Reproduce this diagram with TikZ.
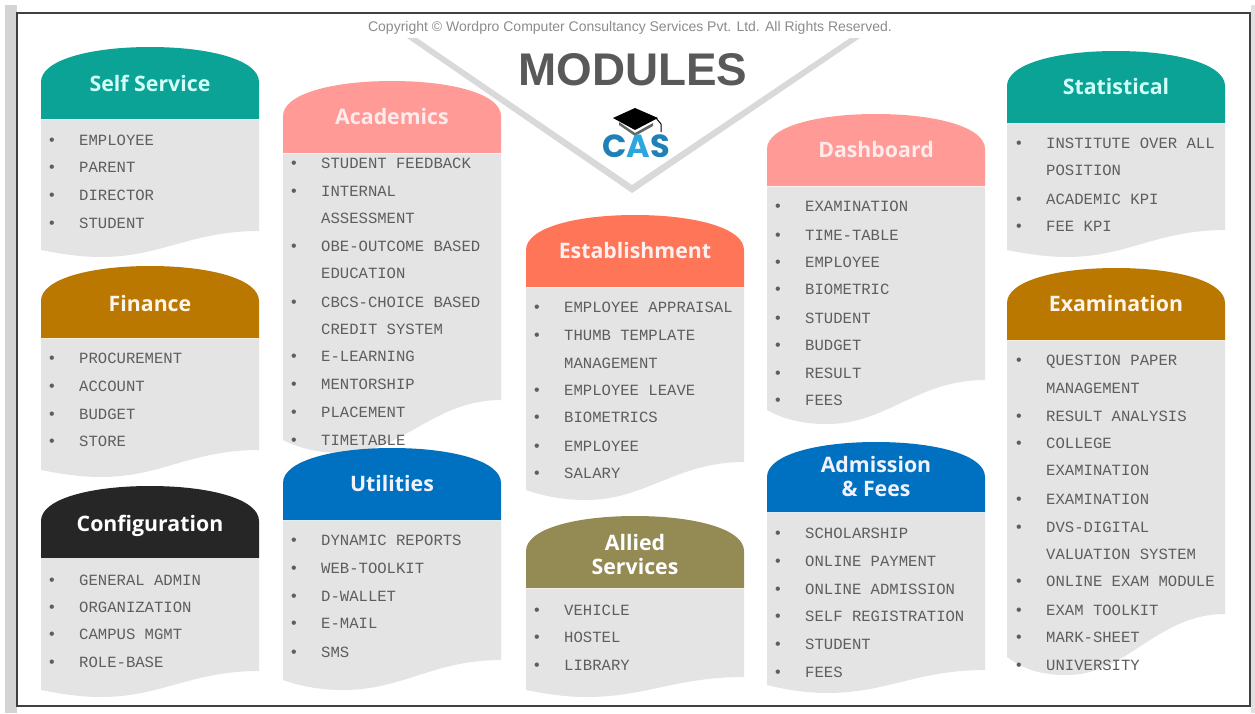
\documentclass[tikz,border=0pt]{standalone}
\usepackage{fontspec}
\setmainfont{Liberation Sans}
\newfontfamily\monoface{Liberation Mono}
\newfontfamily\titleface{Open Sans}
\newfontfamily\logoface{Poppins}
\definecolor{bodygrey}{HTML}{E4E4E4}
\definecolor{itemgrey}{HTML}{5E5E5E}
\definecolor{cteal}{HTML}{0AA396}
\definecolor{cgold}{HTML}{BA7800}
\definecolor{cblack}{HTML}{262626}
\definecolor{cpink}{HTML}{FF9A96}
\definecolor{cblue}{HTML}{0070C0}
\definecolor{csalmon}{HTML}{FF7558}
\definecolor{colive}{HTML}{948A54}
\tikzset{
  itemtext/.style={anchor=base west,inner sep=0pt,text=itemgrey,font=\monoface\fontsize{15.6}{15.6}\selectfont},
  bullettext/.style={anchor=base,inner sep=0pt,text=itemgrey,font=\fontsize{16}{16}\selectfont},
  titletext/.style={align=center,inner sep=0pt,font=\titleface\bfseries\fontsize{21.3}{24.5}\selectfont},
}
\def\headh{72}
\def\tdy{0}
% id, x, top, right end, left end, trough, fill, text colour, title
\newcommand{\modbox}[9]{%
  \fill[bodygrey] (#2,#3+\headh+1) -- (#2+218,#3+\headh+1) -- (#2+218,#4)
     .. controls (#2+150,#4) and (#2+120,#6) .. (#2+60,#6)
     .. controls (#2+40,#6) and (#2+20,#6-3) .. (#2,#5) -- cycle;
  \fill[#7] (#2,#3+\headh) -- (#2,#3+35)
     .. controls (#2,#3+13) and (#2+49,#3) .. (#2+109,#3)
     .. controls (#2+169,#3) and (#2+218,#3+13) .. (#2+218,#3+35)
     -- (#2+218,#3+\headh) -- cycle;
  \node[titletext,text=#8] (#1) at (#2+109,#3+36+\tdy) {#9};
}
% id, x, list y/bullet/text
\newcommand{\moditems}[3]{%
  \foreach \yy/\bu/\tx in {#3} {
    \node[bullettext] (#1-b\yy) at (#2+11,\yy+5) {\bu};
    \node[itemtext] (#1-t\yy) at (#2+38,\yy+5) {\tx};
  }
}
\begin{document}
\begin{tikzpicture}[x=1pt,y=-1pt]
\useasboundingbox (0,0) rectangle (1255,713);
\fill[white] (0,0) rectangle (1255,713);
\fill[black!17] (5,5) rectangle (17,713);
\fill[black!12] (1251,5) rectangle (1255,713);
\draw[line width=1.6pt,black!75] (17,13) rectangle (1250,706);
\node[inner sep=0pt,text=black!45,font=\fontsize{14}{14}\selectfont] (copyright) at (630,28) {Copyright © Wordpro Computer Consultancy Services Pvt. Ltd. All Rights Reserved.};
\fill[black!15] (407,38) -- (632,193) -- (860,38) -- (850,38) -- (632,185) -- (417,38) -- cycle;
\node[inner sep=0pt,text=black!65,font=\bfseries\fontsize{45.8}{45.8}\selectfont] (heading) at (633,70) {MODULES};
% logo
\fill[black!60] (619,122) -- (635,133) -- (653,123) -- (653,126) -- (635,136) -- (619,125) -- cycle;
\fill[black] (635,108) -- (658,118) -- (635,130) -- (613,118) -- cycle;
\draw[line width=1pt,black] (656,118) -- (661,124) -- (661,132);
\node[inner sep=0pt,font=\logoface\bfseries\fontsize{32}{32}\selectfont] (logotext) at (636,146) {\textcolor[HTML]{1F80B8}{C}\textcolor[HTML]{2BA6DE}{A}\textcolor[HTML]{1F80B8}{S}};

\modbox{selfservice}{41}{47}{231}{250}{257}{cteal}{green!15!cyan!18}{Self Service}
\moditems{selfservice}{41}{140/•/EMPLOYEE,167/•/PARENT,195/•/DIRECTOR,223/•/STUDENT}
\def\tdy{1.5}
\modbox{finance}{41}{266}{450}{470}{477}{cgold}{orange!8}{Finance}
\def\tdy{3.5}
\moditems{finance}{41}{358/•/PROCUREMENT,386/•/ACCOUNT,414/•/BUDGET,441/•/STORE}
\modbox{configuration}{41}{486}{671}{690}{697}{cblack}{white}{Configuration}
\def\tdy{0}
\moditems{configuration}{41}{580/•/GENERAL ADMIN,607/•/ORGANIZATION,634/•/CAMPUS MGMT,662/•/ROLE-BASE}
\modbox{academics}{283}{81}{400}{440}{453}{cpink}{red!8}{Academics}
\moditems{academics}{283}{163/•/STUDENT FEEDBACK,191/•/INTERNAL,218//ASSESSMENT,246/•/OBE-OUTCOME BASED,273//EDUCATION,302/•/CBCS-CHOICE BASED,329//CREDIT SYSTEM,356/•/E-LEARNING,384/•/MENTORSHIP,412/•/PLACEMENT,440/•/TIMETABLE}
\modbox{utilities}{283}{448}{660}{680}{690}{cblue}{blue!5}{Utilities}
\moditems{utilities}{283}{540/•/DYNAMIC REPORTS,568/•/WEB-TOOLKIT,596/•/D-WALLET,623/•/E-MAIL,652/•/SMS}
\modbox{establishment}{526}{215}{462}{490}{500}{csalmon}{red!6}{Establishment}
\moditems{establishment}{526}{307/•/EMPLOYEE APPRAISAL,335/•/THUMB TEMPLATE,363//MANAGEMENT,390/•/EMPLOYEE LEAVE,417/•/BIOMETRICS,446/•/EMPLOYEE,473/•/SALARY}
\def\tdy{2.5}
\modbox{allied}{526}{516}{677}{690}{697}{colive}{white}{Allied\\Services}
\def\tdy{0}
\moditems{allied}{526}{610/•/VEHICLE,637/•/HOSTEL,665/•/LIBRARY}
\modbox{dashboard}{767}{114}{380}{410}{424}{cpink}{red!8}{Dashboard}
\moditems{dashboard}{767}{206/•/EXAMINATION,235/•/TIME-TABLE,262/•/EMPLOYEE,289/•/BIOMETRIC,318/•/STUDENT,345/•/BUDGET,373/•/RESULT,400/•/FEES}
\def\headh{70}
\def\tdy{-1.5}
\modbox{admission}{767}{442}{670}{685}{693}{cblue}{blue!5}{Admission\\\& Fees}
\def\headh{72}
\def\tdy{0}
\moditems{admission}{767}{533/•/SCHOLARSHIP,561/•/ONLINE PAYMENT,589/•/ONLINE ADMISSION,616/•/SELF REGISTRATION,644/•/STUDENT,672/•/FEES}
\modbox{statistical}{1007}{51}{230}{250}{257}{cteal}{green!15!cyan!18}{Statistical}
\moditems{statistical}{1008}{143/•/INSTITUTE OVER ALL,170//POSITION,199/•/ACADEMIC KPI,226/•/FEE KPI}
\modbox{examination}{1007}{268}{614}{657}{675}{cgold}{orange!8}{Examination}
\moditems{examination}{1008}{360/•/QUESTION PAPER,388//MANAGEMENT,416/•/RESULT ANALYSIS,443/•/COLLEGE,470//EXAMINATION,499/•/EXAMINATION,527/•/DVS-DIGITAL,554//VALUATION SYSTEM,581/•/ONLINE EXAM MODULE,610/•/EXAM TOOLKIT,637/•/MARK-SHEET,665/•/UNIVERSITY}
\end{tikzpicture}
\end{document}
